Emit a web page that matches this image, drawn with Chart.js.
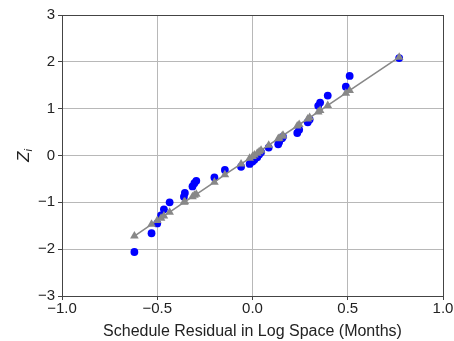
<!DOCTYPE html>
<html>
<head>
<meta charset="utf-8">
<script src="https://cdn.jsdelivr.net/npm/chart.js@4.4.1/dist/chart.umd.min.js"></script>
<style>
  html, body { margin: 0; padding: 0; background: #ffffff; }
  #wrap { width: 454px; height: 341px; }
</style>
</head>
<body>
<div id="wrap"><canvas id="c" width="454" height="341"></canvas></div>
<script>
// Observed schedule residuals (log space) and their normal scores
const residuals = [-0.62, -0.53, -0.50, -0.48, -0.465, -0.435, -0.36, -0.355, -0.315, -0.305,
  -0.295, -0.20, -0.145, -0.06, -0.015, 0.0, 0.01, 0.025, 0.035, 0.045,
  0.085, 0.135, 0.14, 0.155, 0.16, 0.235, 0.245, 0.29, 0.30, 0.345,
  0.355, 0.395, 0.49, 0.51, 0.77];
const zScores = [-2.06, -1.66, -1.45, -1.28, -1.15, -1.00, -0.88, -0.80, -0.66, -0.59,
  -0.54, -0.47, -0.31, -0.24, -0.18, -0.13, -0.09, -0.04, 0.02, 0.07,
  0.17, 0.24, 0.29, 0.37, 0.40, 0.48, 0.55, 0.71, 0.77, 1.06,
  1.13, 1.28, 1.47, 1.70, 2.08];
// Fitted normal line evaluated at each residual
const fittedZ = [-1.72, -1.47, -1.39, -1.34, -1.29, -1.21, -1.00, -0.99, -0.88, -0.85,
  -0.83, -0.57, -0.41, -0.18, -0.06, -0.02, 0.01, 0.05, 0.08, 0.11,
  0.22, 0.36, 0.37, 0.41, 0.43, 0.63, 0.66, 0.78, 0.81, 0.93,
  0.96, 1.07, 1.33, 1.39, 2.10];
const xTicks = [-1.0, -0.5, 0.0, 0.5, 1.0];
const yTicks = [-3, -2, -1, 0, 1, 2, 3];

const FONT = "'Liberation Sans', Arial, sans-serif";
const minusFmt = (v, d) => {
  const s = Number(v).toFixed(d);
  return s.replace('-', '\u2212');
};

// Box around the plotting area
const frame = {
  id: 'frame',
  afterDatasetsDraw(chart) {
    const { ctx, chartArea: a } = chart;
    ctx.save();
    ctx.strokeStyle = '#444444';
    ctx.lineWidth = 1;
    ctx.strokeRect(Math.round(a.left) + 0.5, Math.round(a.top) + 0.5,
      Math.round(a.right - a.left), Math.round(a.bottom - a.top));
    ctx.restore();
  }
};

// Y axis title: italic Z with subscript i
const yTitle = {
  id: 'yTitle',
  afterDraw(chart) {
    const { ctx, chartArea: a } = chart;
    const cy = (a.top + a.bottom) / 2;
    ctx.save();
    ctx.translate(23, cy);
    ctx.rotate(-Math.PI / 2);
    ctx.fillStyle = '#222222';
    ctx.textBaseline = 'alphabetic';
    ctx.font = 'italic 17px ' + FONT;
    const wZ = ctx.measureText('Z').width;
    ctx.font = 'italic 11px ' + FONT;
    const wi = ctx.measureText('i').width;
    const x0 = -(wZ + wi) / 2;
    ctx.font = 'italic 17px ' + FONT;
    ctx.fillText('Z', x0, 6);
    ctx.font = 'italic 11px ' + FONT;
    ctx.fillText('i', x0 + wZ, 9);
    ctx.restore();
  }
};

new Chart(document.getElementById('c'), {
  type: 'scatter',
  data: {
    datasets: [
      {
        label: 'Fitted',
        type: 'line',
        data: residuals.map((x, i) => ({ x, y: fittedZ[i] })),
        borderColor: '#888888',
        backgroundColor: '#888888',
        borderWidth: 1.6,
        pointStyle: 'triangle',
        pointRadius: 5,
        pointBorderWidth: 0,
        pointBackgroundColor: '#888888',
        showLine: true,
        fill: false,
        tension: 0,
        order: 0
      },
      {
        label: 'Observed',
        data: residuals.map((x, i) => ({ x, y: zScores[i] })),
        pointStyle: 'circle',
        pointRadius: 3.9,
        pointBorderWidth: 0,
        pointBackgroundColor: '#0000ff',
        backgroundColor: '#0000ff',
        showLine: false,
        order: 1
      }
    ]
  },
  options: {
    responsive: false,
    animation: false,
    devicePixelRatio: 1,
    layout: { padding: { top: 15, right: 11, left: 0, bottom: 0 } },
    plugins: {
      legend: { display: false },
      tooltip: { enabled: false }
    },
    scales: {
      x: {
        type: 'linear',
        min: -1, max: 1,
        afterBuildTicks(s) { s.ticks = xTicks.map(v => ({ value: v })); },
        afterFit(s) { s.height = 45; },
        grid: { color: '#b8b8b8', lineWidth: 1, tickColor: '#444444', tickLength: 4, drawTicks: true },
        border: { display: false },
        ticks: {
          color: '#222222',
          font: { family: FONT, size: 15 },
          padding: 0,
          maxRotation: 0,
          callback: v => minusFmt(v, 1)
        },
        title: {
          display: true,
          text: 'Schedule Residual in Log Space (Months)',
          color: '#222222',
          font: { family: FONT, size: 16 },
          padding: { top: 0, bottom: 0 }
        }
      },
      y: {
        type: 'linear',
        min: -3, max: 3,
        afterBuildTicks(s) { s.ticks = yTicks.map(v => ({ value: v })); },
        afterFit(s) { s.width = 62; },
        grid: { color: '#b8b8b8', lineWidth: 1, tickColor: '#444444', tickLength: 4, drawTicks: true },
        border: { display: false },
        ticks: {
          color: '#222222',
          font: { family: FONT, size: 15 },
          padding: 3,
          callback: v => minusFmt(v, 0)
        }
      }
    }
  },
  plugins: [frame, yTitle]
});
</script>
</body>
</html>
